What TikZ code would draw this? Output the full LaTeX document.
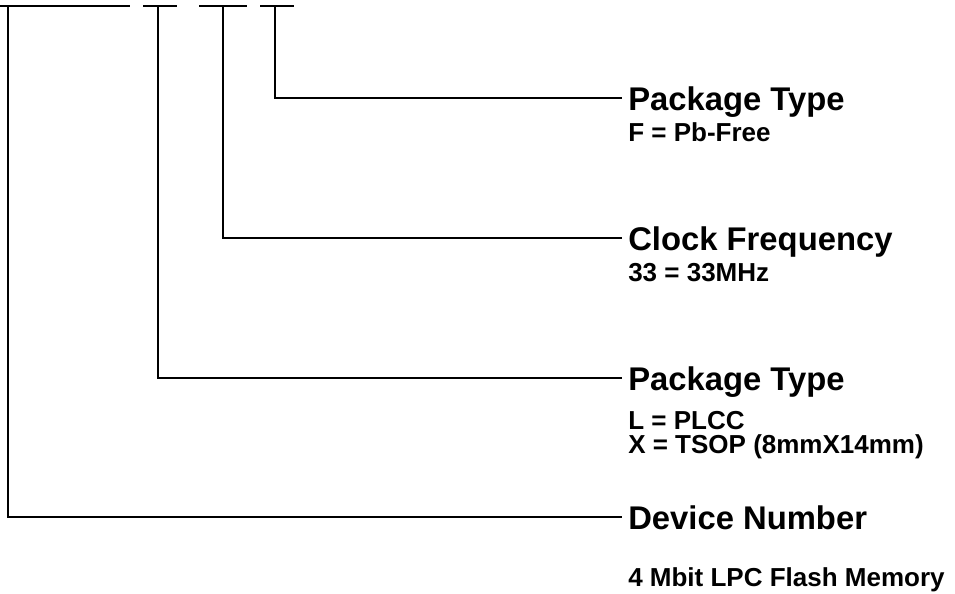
\documentclass[tikz,border=0pt]{standalone}
\usepackage{fontspec}
\setmainfont{Liberation Sans}
\begin{document}
\begin{tikzpicture}[x=0.75pt,y=-0.75pt,
  ln/.style={line width=1.6pt},
  head/.style={anchor=base west,inner sep=0pt,font=\bfseries\fontsize{24.6}{28}\selectfont},
  sub/.style={anchor=base west,inner sep=0pt,font=\bfseries\fontsize{19.5}{22}\selectfont}]
\useasboundingbox (0,0) rectangle (955,593);
% top segments
\draw[ln] (0,6) -- (130,6);
\draw[ln] (143,6) -- (177,6);
\draw[ln] (199,6) -- (247,6);
\draw[ln] (260,6) -- (294,6);
% tops of verticals
\coordinate (t1) at (8,6);
\coordinate (t2) at (158,6);
\coordinate (t3) at (223,6);
\coordinate (t4) at (275,6);
% connector ends
\coordinate (e4) at (622,98);
\coordinate (e3) at (622,238);
\coordinate (e2) at (622,378);
\coordinate (e1) at (622,517);
% labels
\node[head] (h4) at (628,110) {Package Type};
\node[sub] (s4) at (628,141) {F = Pb-Free};
\node[head] (h3) at (628,250) {Clock Frequency};
\node[sub] (s3) at (628,281) {33 = 33MHz};
\node[head] (h2) at (628,390) {Package Type};
\node[sub] (s2a) at (628,429) {L = PLCC};
\node[sub] (s2b) at (628,453) {X = TSOP (8mmX14mm)};
\node[head] (h1) at (628,529) {Device Number};
\node[sub] (s1) at (628,586) {4 Mbit LPC Flash Memory};
% connectors
\draw[ln] (t4) |- (e4);
\draw[ln] (t3) |- (e3);
\draw[ln] (t2) |- (e2);
\draw[ln] (t1) |- (e1);
\end{tikzpicture}
\end{document}
